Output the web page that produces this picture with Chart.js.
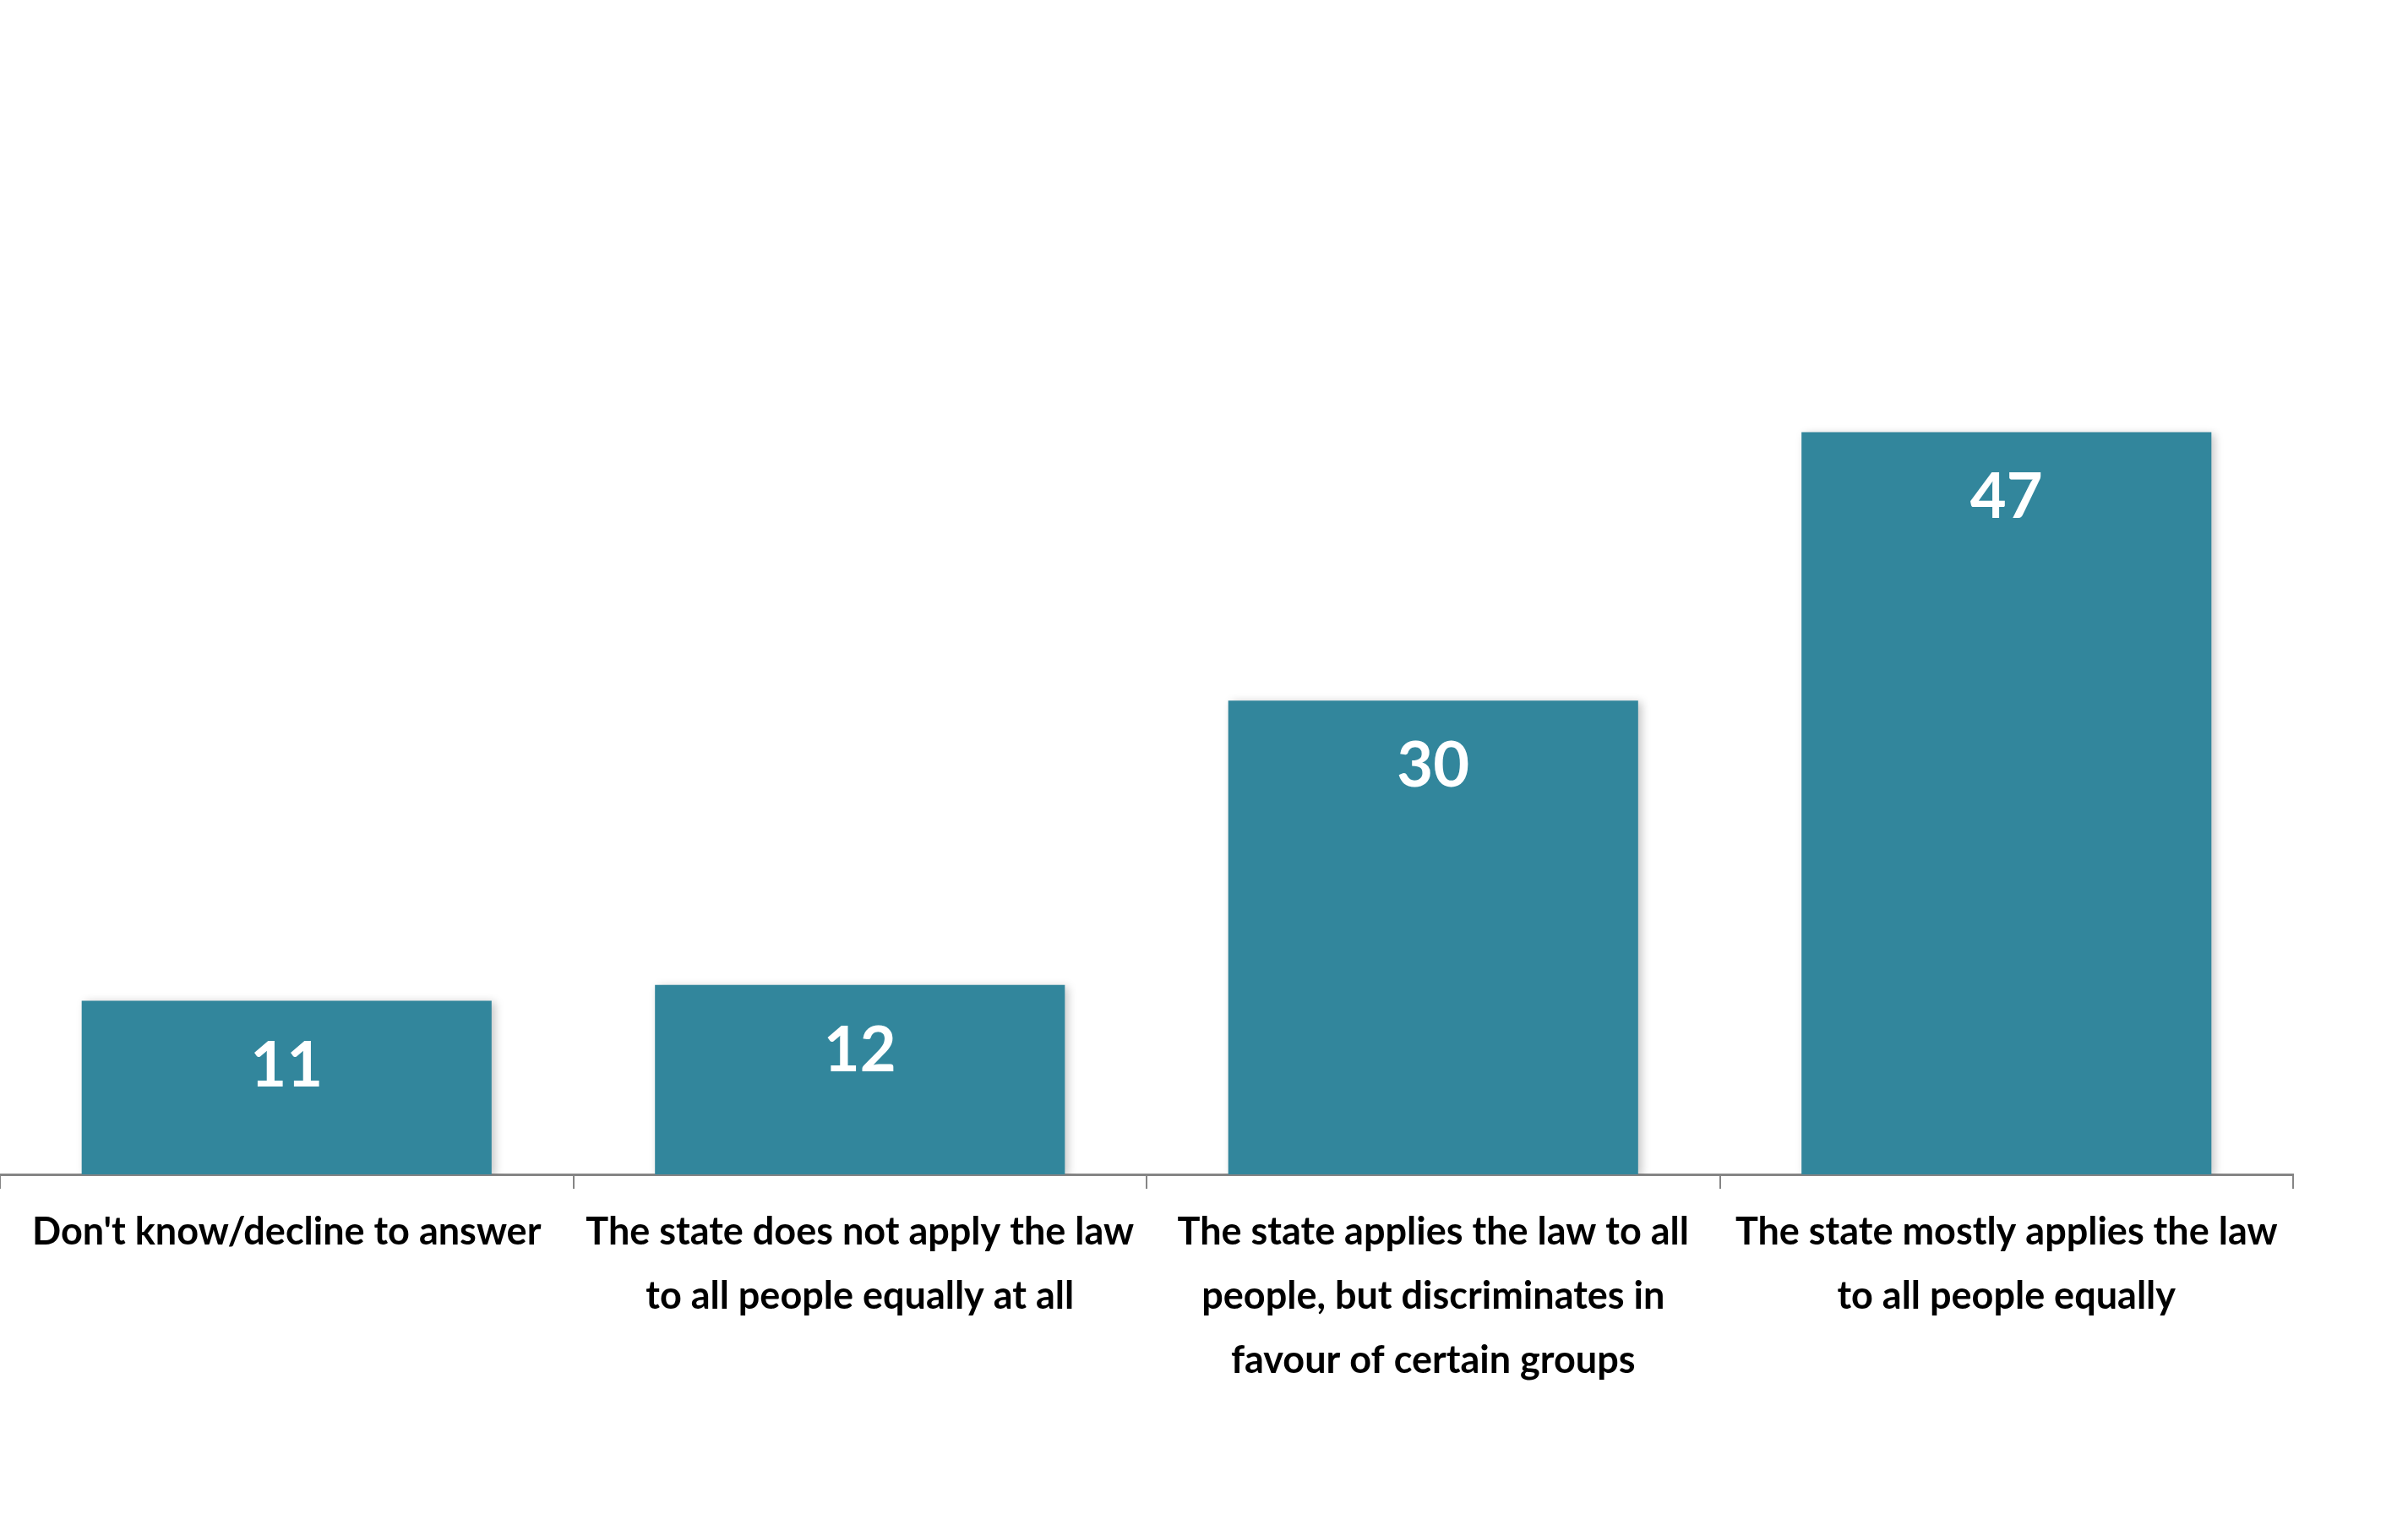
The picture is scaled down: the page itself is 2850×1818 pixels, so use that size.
<!DOCTYPE html>
<html>
<head>
<meta charset="utf-8">
<script src="https://cdn.jsdelivr.net/npm/chart.js@4.4.1/dist/chart.umd.min.js"></script>
<style>
  html, body { margin: 0; padding: 0; background: #fff; }
  #wrap { width: 2850px; height: 1818px; }
</style>
</head>
<body>
<div id="wrap"><canvas id="myChart" width="2850" height="1818"></canvas></div>
<script>
// Categories and values
let labels = [
    ["Don't know/decline to answer"],
    ['The state does not apply the law', 'to all people equally at all'],
    ['The state applies the law to all', 'people, but discriminates in', 'favour of certain groups'],
    ['The state mostly applies the law', 'to all people equally']
];
let values = [11, 12, 30, 47];

const barColor = '#32869c';

// draw the value inside the top of each bar
const valueLabels = {
    id: 'valueLabels',
    afterDatasetsDraw(chart) {
        const ctx = chart.ctx;
        const meta = chart.getDatasetMeta(0);
        ctx.save();
        ctx.fillStyle = '#ffffff';
        ctx.font = 'bold 74px Lato';
        ctx.textAlign = 'center';
        ctx.textBaseline = 'middle';
        meta.data.forEach((bar, i) => {
            ctx.fillText(String(values[i]), bar.x, bar.y + 78);
        });
        ctx.restore();
    }
};

// soft shadow behind the bars
const barShadow = {
    id: 'barShadow',
    beforeDatasetsDraw(chart) {
        const ctx = chart.ctx;
        ctx.save();
        ctx.shadowColor = 'rgba(0,0,0,0.22)';
        ctx.shadowBlur = 10;
        ctx.shadowOffsetX = 4;
        ctx.shadowOffsetY = 2;
    },
    afterDatasetsDraw(chart) {
        chart.ctx.restore();
    }
};

let ctx = document.getElementById('myChart').getContext('2d');
let myChart = new Chart(ctx, {
    type: 'bar',
    data: {
        labels: labels,
        datasets: [{
            data: values,
            backgroundColor: barColor,
            borderWidth: 0,
            barPercentage: 0.715,
            categoryPercentage: 1.0
        }]
    },
    options: {
        responsive: false,
        animation: false,
        layout: { padding: { top: 7, right: 136, left: 0, bottom: 0 } },
        plugins: {
            legend: { display: false },
            tooltip: { enabled: false }
        },
        scales: {
            x: {
                afterFit: (axis) => { axis.height = 428; },
                grid: {
                    display: true,
                    drawOnChartArea: false,
                    drawTicks: true,
                    tickLength: 17,
                    color: '#858585',
                    lineWidth: 2
                },
                border: { display: true, color: '#858585', width: 3 },
                ticks: {
                    color: '#000000',
                    font: { family: 'Lato', weight: 'bold', size: 45, lineHeight: 1.68 },
                    padding: 14,
                    maxRotation: 0,
                    autoSkip: false
                }
            },
            y: {
                display: false,
                beginAtZero: true,
                min: 0,
                max: 74
            }
        }
    },
    plugins: [barShadow, valueLabels]
});
</script>
</body>
</html>
